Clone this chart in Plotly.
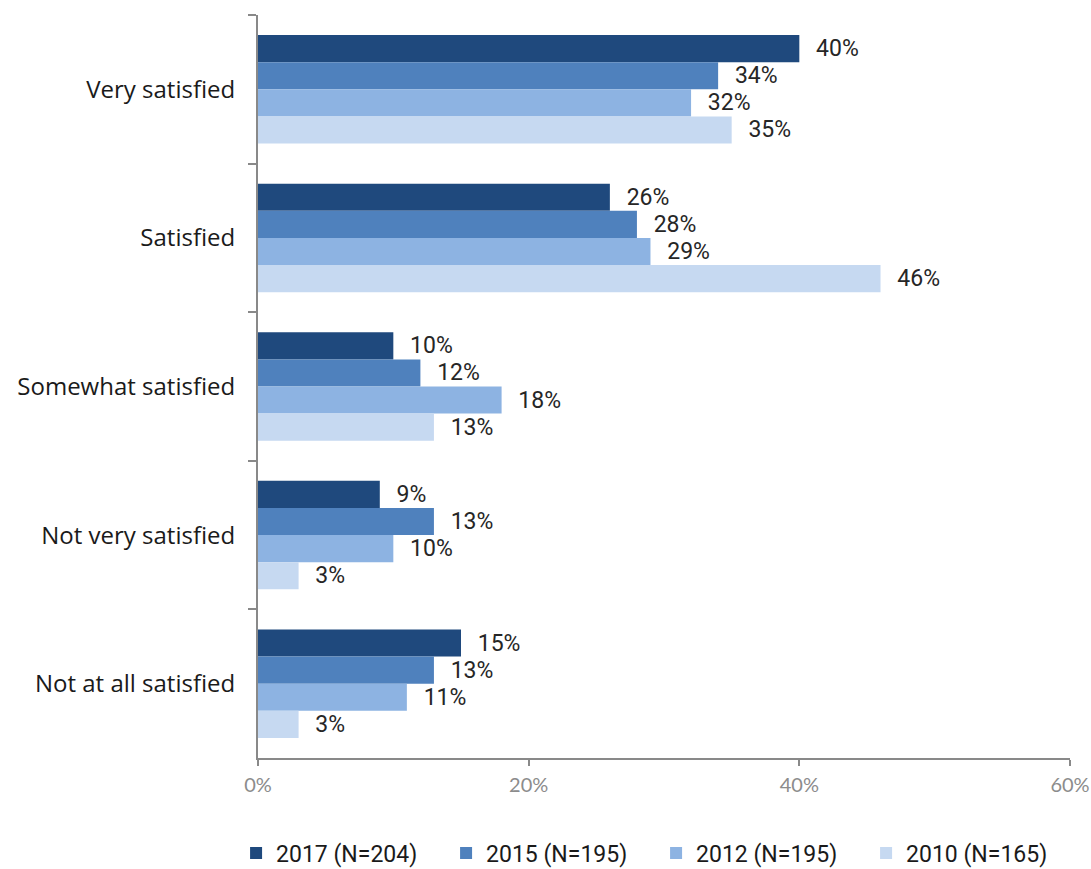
import plotly.graph_objects as go

# Survey categories (top to bottom) and satisfaction shares (%) by wave
categories = ["Very satisfied", "Satisfied", "Somewhat satisfied",
              "Not very satisfied", "Not at all satisfied"]
series_names = ["2017 (N=204)", "2015 (N=195)", "2012 (N=195)", "2010 (N=165)"]
values_2017 = [40, 26, 10, 9, 15]
values_2015 = [34, 28, 12, 13, 13]
values_2012 = [32, 29, 18, 10, 11]
values_2010 = [35, 46, 13, 3, 3]
x_tick_values = [0, 20, 40, 60]
x_tick_labels = ["0%", "20%", "40%", "60%"]

series_values = [values_2017, values_2015, values_2012, values_2010]
colors = ["#1F497D", "#4F81BD", "#8DB3E2", "#C6D9F1"]

fig = go.Figure()
for name, vals, col in zip(series_names, series_values, colors):
    fig.add_trace(go.Bar(
        y=categories,
        x=vals,
        name=name,
        orientation="h",
        marker=dict(color=col, line=dict(width=0)),
        text=[f"\u00a0\u00a0\u200a{v}%" for v in vals],
        textposition="outside",
        textfont=dict(family="Roboto", size=23, color="#262626"),
        constraintext="none",
        cliponaxis=False,
        hoverinfo="skip",
    ))

fig.update_layout(
    width=1091,
    height=869,
    barmode="group",
    bargap=0.27,
    bargroupgap=0,
    plot_bgcolor="white",
    paper_bgcolor="white",
    margin=dict(l=258, r=21, t=15, b=111, autoexpand=False),
    showlegend=True,
    legend=dict(
        orientation="h",
        x=-0.027,
        xanchor="left",
        y=-0.099,
        yanchor="top",
        font=dict(family="Roboto", size=23, color="#1a1a1a"),
        traceorder="normal",
        entrywidth=165,
        itemwidth=30,
        tracegroupgap=0,
    ),
)

fig.update_xaxes(
    range=[0, 60],
    tickvals=x_tick_values,
    ticktext=x_tick_labels,
    showgrid=False,
    zeroline=False,
    showline=True,
    linecolor="#898989",
    linewidth=2,
    ticks="outside",
    ticklen=6,
    tickwidth=2,
    tickcolor="#898989",
    tickfont=dict(family="Lato", size=20, color="#8c8c8c"),
    ticklabelstandoff=2,
    automargin=False,
    fixedrange=True,
)

fig.update_yaxes(
    autorange="reversed",
    showgrid=False,
    zeroline=False,
    showline=True,
    linecolor="#898989",
    linewidth=2,
    ticks="outside",
    tickson="boundaries",
    ticklen=8,
    tickwidth=2,
    tickcolor="#898989",
    tickfont=dict(family="Open Sans", size=24, color="#1a1a1a"),
    ticklabelstandoff=16,
    automargin=False,
    fixedrange=True,
)

fig.write_html("out.html")
